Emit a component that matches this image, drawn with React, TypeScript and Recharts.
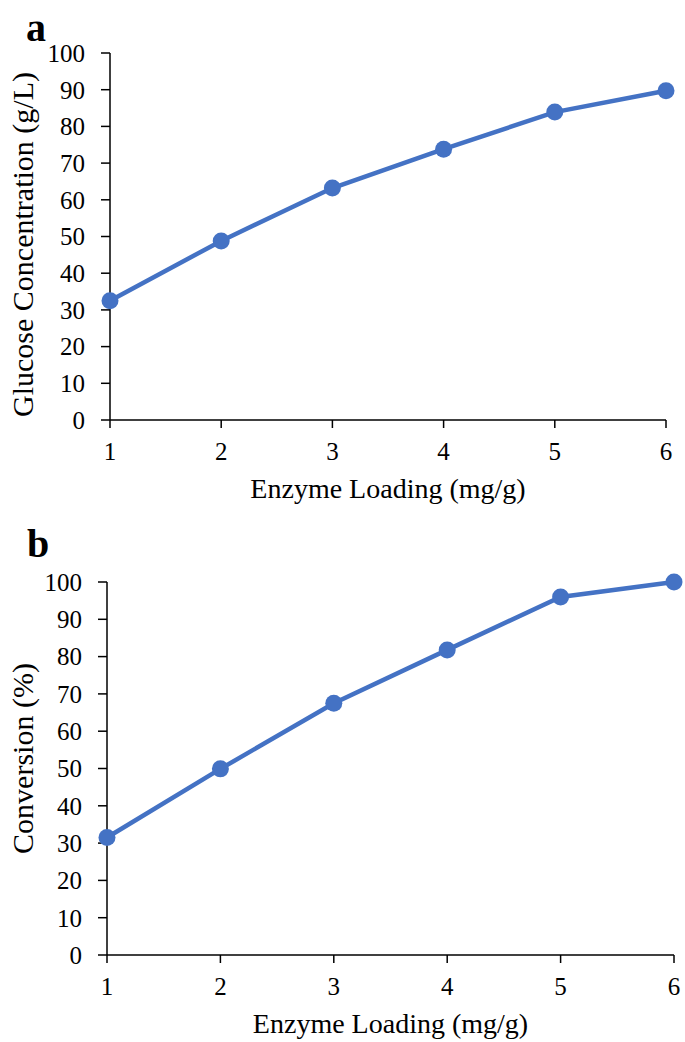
import React from "react";
import { LineChart, Line, XAxis, YAxis } from "recharts";

// enzyme loading (mg/g)
const loadings = [1, 2, 3, 4, 5, 6];
// panel a: glucose concentration (g/L)
const glucose = [32.5, 48.8, 63.2, 73.8, 83.9, 89.7];
// panel b: conversion (%)
const conversion = [31.5, 49.9, 67.5, 81.8, 96.0, 100.0];

const xTicks = [1, 2, 3, 4, 5, 6];
const yTicks = [0, 10, 20, 30, 40, 50, 60, 70, 80, 90, 100];

const FONT = '"Liberation Serif", "Times New Roman", serif';
const BLUE = "#4472C4";

const dataA = loadings.map((x, i) => ({ x, y: glucose[i] }));
const dataB = loadings.map((x, i) => ({ x, y: conversion[i] }));

const tickStyle = { fill: "#000", fontSize: 25, fontFamily: FONT };
const xTitleStyle = { fill: "#000", fontSize: 28, fontFamily: FONT, textAnchor: "middle" as const };

// rotated y-axis title, centred on the axis with an optional nudge
const makeYTitle = (text: string, shift: number) => (props: any) => {
    const vb = props.viewBox || {};
    const cx = (vb.x || 0) + 22;
    const cy = (vb.y || 0) + (vb.height || 0) / 2 + shift;
    return (
        <text
            x={cx}
            y={cy}
            transform={`rotate(-90 ${cx} ${cy})`}
            textAnchor="middle"
            dominantBaseline="central"
            fill="#000"
            fontSize={30}
            fontFamily={FONT}
        >
            {text}
        </text>
    );
};

interface PanelProps {
    data: { x: number; y: number }[];
    yTitle: string;
    margin: { top: number; right: number; bottom: number; left: number };
    height: number;
    axisWidth: number;
    yShift: number;
}

const Panel: React.FC<PanelProps> = ({ data, yTitle, margin, height, axisWidth, yShift }) => (
    <LineChart width={685} height={height} data={data} margin={margin}>
        <XAxis
            dataKey="x"
            type="number"
            domain={[1, 6]}
            ticks={xTicks}
            stroke="#000"
            strokeWidth={1.5}
            tick={tickStyle}
            tickSize={8}
            tickMargin={14}
            height={78}
            label={{ value: "Enzyme Loading (mg/g)", position: "insideBottom", offset: 0, style: xTitleStyle }}
        />
        <YAxis
            type="number"
            domain={[0, 100]}
            ticks={yTicks}
            stroke="#000"
            strokeWidth={1.5}
            tick={tickStyle}
            tickSize={9}
            tickMargin={16}
            width={axisWidth}
            interval={0}
            label={makeYTitle(yTitle, yShift)}
        />
        <Line
            type="linear"
            dataKey="y"
            stroke={BLUE}
            strokeWidth={4.5}
            dot={{ r: 8.5, fill: BLUE, stroke: "none" }}
            isAnimationActive={false}
        />
    </LineChart>
);

const letterStyle: React.CSSProperties = {
    position: "absolute",
    fontFamily: FONT,
    fontWeight: "bold",
    fontSize: 40,
    lineHeight: 1,
    color: "#000",
};

export default function App() {
    return (
        <div style={{ position: "absolute", left: 0, top: 0, width: 685, height: 1042, background: "#fff" }}>
            <div style={{ position: "absolute", left: 0, top: 0 }}>
                <Panel
                    data={dataA}
                    yTitle="Glucose Concentration (g/L)"
                    margin={{ top: 53, right: 19, bottom: 22, left: 0 }}
                    height={520}
                    axisWidth={110}
                    yShift={8}
                />
            </div>
            <div style={{ position: "absolute", left: 0, top: 520 }}>
                <Panel
                    data={dataB}
                    yTitle="Conversion (%)"
                    margin={{ top: 62, right: 11, bottom: 9, left: 0 }}
                    height={522}
                    axisWidth={107}
                    yShift={-10}
                />
            </div>
            <div style={{ ...letterStyle, left: 26, top: 8 }}>a</div>
            <div style={{ ...letterStyle, left: 27, top: 524 }}>b</div>
        </div>
    );
}
